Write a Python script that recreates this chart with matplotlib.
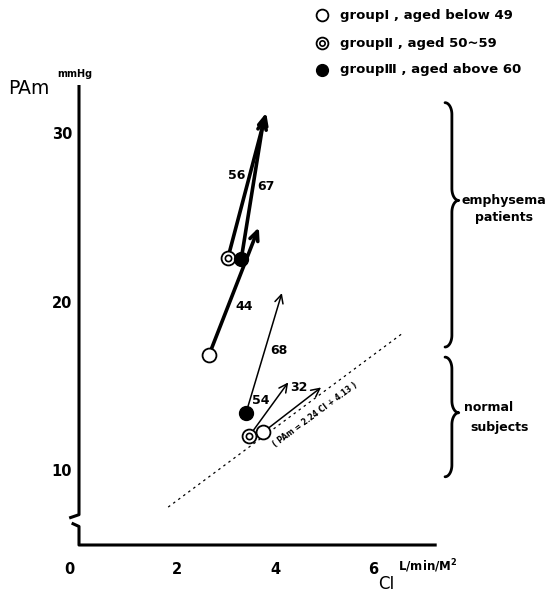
import numpy as np
import matplotlib.pyplot as plt
from matplotlib.transforms import ScaledTranslation

# CI (L/min/M^2) and PAm (mmHg): rest -> exercise, per group
emph_start_ci = [2.65, 3.04, 3.31]
emph_start_pam = [16.8, 22.6, 22.5]
emph_end_ci = [3.67, 3.82, 3.78]
emph_end_pam = [24.4, 31.2, 31.0]
emph_ages = ["44", "56", "67"]

norm_start_ci = [3.76, 3.47, 3.41]
norm_start_pam = [12.25, 12.0, 13.4]
norm_end_ci = [4.94, 4.27, 4.14]
norm_end_pam = [14.9, 15.2, 20.5]
norm_ages = ["32", "54", "68"]

groups = ["I", "II", "III"]
legend_labels = ["group\u2160 , aged below 49", "group\u2161 , aged 50~59", "group\u2162 , aged above 60"]

reg_ci = [1.82, 6.61]
reg_pam = [7.8, 18.13]

xticks = [0, 2, 4, 6]
yticks = [10, 20, 30]

plt.rcParams['font.family'] = 'DejaVu Sans'

fig = plt.figure(figsize=(5.49, 5.93), dpi=100)
ax = fig.add_axes([79 / 549, 48 / 593, 357.7 / 549, 460 / 593])
ax.set_xlim(0, 7.3)
ax.set_ylim(5.55, 32.85)
for s in ax.spines.values():
    s.set_visible(False)

# axes with broken y axis
k = dict(color="black", lw=2.2, clip_on=False, solid_capstyle="butt")
ax.plot([0, 0, -0.2], [32.85, 7.35, 7.15], **k)
ax.plot([-0.15, 0, 0, 7.3], [6.85, 6.65, 5.55, 5.55], **k)

ax.set_xticks(xticks)
ax.set_xticklabels([str(v) for v in xticks], fontsize=10.5, fontweight="bold")
ax.set_yticks(yticks)
ax.set_yticklabels([str(v) for v in yticks], fontsize=10.5, fontweight="bold")
ax.tick_params(length=0)
ax.tick_params(axis="x", pad=12)
ax.tick_params(axis="y", pad=5)
lab0 = ax.get_xticklabels()[0]
lab0.set_transform(lab0.get_transform() + ScaledTranslation(-0.1, 0, fig.dpi_scale_trans))

# regression line
ax.plot(reg_ci, reg_pam, ls=(0, (2, 3)), color="black", lw=0.9)
ax.text(4.82, 13.3, "( PAm = 2.24 CI + 4.13 )", fontsize=5.5, fontweight="bold",
        rotation=36.5, ha="center", va="center", rotation_mode="anchor")


def marker(x, y, g, size=10, transform=None):
    kw = {} if transform is None else dict(transform=transform, clip_on=False)
    if g == "I":
        ax.plot(x, y, "o", ms=size, mfc="white", mec="black", mew=1.3, zorder=5, **kw)
    elif g == "II":
        ax.plot(x, y, "o", ms=size, mfc="white", mec="black", mew=1.3, zorder=5, **kw)
        ax.plot(x, y, "o", ms=size * 0.45, mfc="white", mec="black", mew=1.2, zorder=6, **kw)
    else:
        ax.plot(x, y, "o", ms=size, mfc="black", mec="black", zorder=5, **kw)


# emphysema arrows (thick)
for i, g in enumerate(groups):
    ax.annotate("", xy=(emph_end_ci[i], emph_end_pam[i]), xytext=(emph_start_ci[i], emph_start_pam[i]),
                arrowprops=dict(arrowstyle="->,head_length=0.55,head_width=0.25", lw=2.6,
                                color="black", shrinkA=0, shrinkB=0, mutation_scale=12))
    marker(emph_start_ci[i], emph_start_pam[i], g)

# normal arrows (thin)
for i, g in enumerate(groups):
    ax.annotate("", xy=(norm_end_ci[i], norm_end_pam[i]), xytext=(norm_start_ci[i], norm_start_pam[i]),
                arrowprops=dict(arrowstyle="->,head_length=0.5,head_width=0.25", lw=1.1,
                                color="black", shrinkA=0, shrinkB=0, mutation_scale=12))
    marker(norm_start_ci[i], norm_start_pam[i], g)

# age labels
for lab, (x, y) in zip(emph_ages, [(3.37, 19.7), (3.22, 27.5), (3.82, 26.8)]):
    ax.text(x, y, lab, fontsize=9, fontweight="bold", ha="center", va="center")
for lab, (x, y) in zip(norm_ages, [(4.49, 14.9), (3.71, 14.15), (4.08, 17.1)]):
    ax.text(x, y, lab, fontsize=9, fontweight="bold", ha="center", va="center")


def brace(x0, ytop, ycusp, ybot, w=0.14, r=0.7):
    t = np.linspace(0, np.pi / 2, 20)
    xs, ys = [], []
    xs += list(x0 + w * np.sin(t)); ys += list(ytop - r + r * np.cos(t))
    xs += [x0 + w]; ys += [ycusp + r]
    xs += list(x0 + w + w * (1 - np.cos(t))); ys += list(ycusp + r - r * np.sin(t))
    xs += list(x0 + w + w * (1 - np.sin(t))); ys += list(ycusp - r * (1 - np.cos(t)))
    xs += [x0 + w]; ys += [ybot + r]
    xs += list(x0 + w * np.cos(t)); ys += list(ybot + r - r * np.sin(t))
    ax.plot(xs, ys, color="black", lw=2.0, clip_on=False, solid_capstyle="round")


brace(7.47, 31.8, 26.0, 17.3)
brace(7.47, 16.7, 13.4, 9.6)
ax.text(8.67, 26.0, "emphysema", fontsize=9, fontweight="bold", ha="center", va="center")
ax.text(8.67, 25.0, "patients", fontsize=9, fontweight="bold", ha="center", va="center")
ax.text(7.86, 13.7, "normal", fontsize=9, fontweight="bold", ha="left", va="center")
ax.text(7.98, 12.5, "subjects", fontsize=9, fontweight="bold", ha="left", va="center")

# axis titles
fig.text(8 / 549, 1 - 89 / 593, "PAm", fontsize=13.5, ha="left", va="center")
fig.text(57 / 549, 1 - 74 / 593, "mmHg", fontsize=7, fontweight="bold", ha="left", va="center")
fig.text(398 / 549, 1 - 566 / 593, "L/min/M$^{\\mathbf{2}}$", fontsize=8.5, fontweight="bold", ha="left", va="center")
fig.text(378 / 549, 1 - 584 / 593, "CI", fontsize=12, ha="left", va="center")

# legend
for g, lab, yp in zip(groups, legend_labels, [15, 43, 70]):
    fy = 1 - yp / 593
    marker(322 / 549, fy, g, size=8.5, transform=fig.transFigure)
    fig.text(340 / 549, fy, lab, fontsize=9.5, fontweight="bold", ha="left", va="center")

fig.savefig("out.png", dpi=100)
